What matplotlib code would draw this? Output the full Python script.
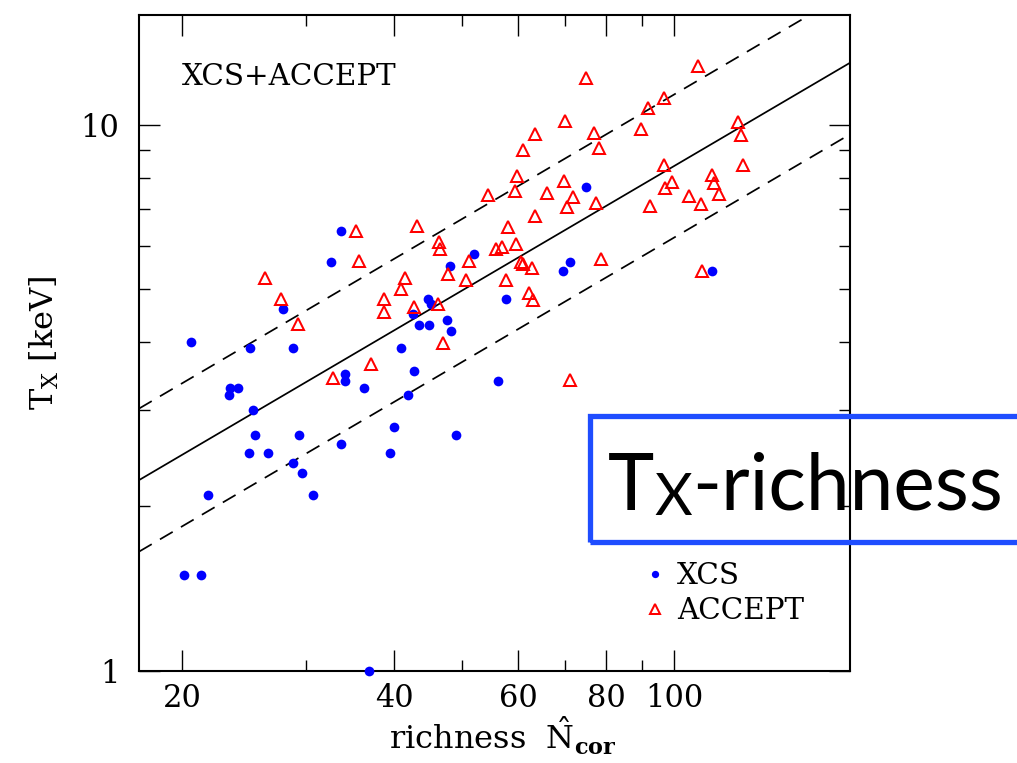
#!/usr/bin/env python3
"""T_X vs optical richness for XCS and ACCEPT clusters, log-log."""

import numpy as np
import matplotlib.pyplot as plt
from matplotlib.patches import Rectangle
from matplotlib.ticker import FixedLocator, FixedFormatter, NullFormatter

# XCS clusters: richness N_cor, T_X [keV]
xcs_n = [33.6, 32.5, 20.6, 25.0, 28.7, 27.8, 23.4, 24.0, 23.3, 25.2,
         48.0, 44.7, 45.1, 42.5, 43.4, 44.8, 47.6, 48.2, 40.9, 42.7,
         41.9, 34.1, 34.1, 36.2, 25.4, 24.9, 26.5, 29.3, 28.7, 29.6,
         30.7, 21.8, 33.6, 40.0, 39.5, 48.9, 20.1, 21.3, 36.8, 51.9,
         57.6, 56.2, 69.5, 71.2, 113.2, 74.9]
xcs_t = [6.39, 5.60, 4.00, 3.90, 3.90, 4.59, 3.30, 3.30, 3.20, 3.00,
         5.50, 4.79, 4.69, 4.50, 4.29, 4.29, 4.39, 4.19, 3.90, 3.54,
         3.20, 3.50, 3.39, 3.30, 2.70, 2.50, 2.50, 2.70, 2.40, 2.30,
         2.10, 2.10, 2.60, 2.80, 2.50, 2.70, 1.50, 1.50, 1.00, 5.80,
         4.79, 3.39, 5.40, 5.60, 5.40, 7.69]

# ACCEPT clusters
acc_n = [26.2, 27.6, 29.2, 32.8, 35.3, 35.7, 37.1, 38.7, 38.7, 40.9,
         41.4, 42.7, 43.1, 46.1, 46.3, 46.5, 47.0, 47.7, 50.6, 51.1,
         54.4, 55.8, 56.9, 57.6, 58.1, 59.3, 59.6, 59.7, 60.6, 60.9,
         62.7, 62.2, 62.9, 63.5, 63.4, 60.9, 65.9, 69.8, 70.0, 70.4,
         71.8, 74.9, 76.9, 77.3, 78.2, 78.8, 71.2, 89.6, 91.7, 92.5,
         96.6, 96.8, 97.0, 99.2, 104.9, 108.0, 109.1, 109.6, 113.2, 114.0,
         115.7, 123.0, 124.5, 125.3]
acc_t = [5.23, 4.80, 4.31, 3.43, 6.39, 5.63, 3.64, 4.79, 4.54, 5.00,
         5.24, 4.64, 6.52, 4.70, 6.09, 5.93, 3.98, 5.32, 5.19, 5.63,
         7.43, 5.93, 5.96, 5.20, 6.49, 7.56, 6.04, 8.04, 5.60, 5.55,
         5.46, 4.92, 4.78, 6.81, 9.62, 8.98, 7.51, 7.90, 10.14, 7.08,
         7.38, 12.18, 9.66, 7.18, 9.05, 5.67, 3.41, 9.81, 10.72, 7.09,
         11.21, 8.45, 7.67, 7.86, 7.40, 12.81, 7.16, 5.40, 8.08, 7.81,
         7.48, 10.13, 9.56, 8.45]

# best-fit power law and its scatter
FIT_SLOPE = 0.757
FIT_T40 = 4.20       # keV at N = 40
FIT_SCATTER = 0.131  # dex

x_ticks = [20, 40, 60, 80, 100]
x_minor = [30, 50, 70, 90]
y_ticks = [1, 10]
y_minor = [2, 3, 4, 5, 6, 7, 8, 9]

W, H = 1017, 763


def _title_box(fig):
    # blue title box, running off the right edge of the page
    fig.patches.append(Rectangle((590 / W, 1 - 542 / H), 0.5, 126 / H,
                                 transform=fig.transFigure, fill=False,
                                 edgecolor='#1f4dff', lw=3.8, zorder=5))
    r = fig.canvas.get_renderer()
    base = 1 - 510 / H
    size = 62.0
    parts = []
    for _ in range(3):
        for t in parts:
            t.remove()
        t1 = fig.text(608 / W, base, 'T', fontsize=size, family='Lato',
                      va='baseline')
        x1 = t1.get_window_extent(r).x1
        t2 = fig.text(x1 / W, base - 5 / H, 'X', fontsize=size * 0.74,
                      family='Lato', va='baseline')
        x2 = t2.get_window_extent(r).x1
        t3 = fig.text(x2 / W, base, '-richness', fontsize=size, family='Lato',
                      va='baseline')
        parts = [t1, t2, t3]
        right = t3.get_window_extent(r).x1
        size *= (1003 - 608) / (right - 608)


def main():
    plt.rcParams['font.family'] = ['DejaVu Serif']
    plt.rcParams['mathtext.fontset'] = 'dejavuserif'

    fig = plt.figure(figsize=(W / 100, H / 100), dpi=100)
    ax = fig.add_axes([139 / W, 1 - 670.7 / H, 711 / W, 655.4 / H])
    ax.set_xscale('log')
    ax.set_yscale('log')
    ax.set_xlim(17.37, 177.6)
    ax.set_ylim(1.0, 15.86)

    xs = np.array(ax.get_xlim())
    fit = FIT_T40 * (xs / 40.0) ** FIT_SLOPE
    ax.plot(xs, fit, color='black', lw=1.25, zorder=2)
    for sgn in (1, -1):
        ax.plot(xs, fit * 10 ** (sgn * FIT_SCATTER), color='black', lw=1.25,
                linestyle=(0, (8.5, 5.5)), zorder=2)

    ax.plot(xcs_n, xcs_t, 'o', color='#0000ff', ms=7, mew=0,
            label='XCS', zorder=3, clip_on=False)
    ax.plot(acc_n, acc_t, '^', mfc='none', mec='#ff0000', mew=1.45, ms=9,
            label='ACCEPT', zorder=4)

    ax.xaxis.set_major_locator(FixedLocator(x_ticks))
    ax.xaxis.set_major_formatter(FixedFormatter([str(v) for v in x_ticks]))
    ax.xaxis.set_minor_locator(FixedLocator(x_minor))
    ax.xaxis.set_minor_formatter(NullFormatter())
    ax.yaxis.set_major_locator(FixedLocator(y_ticks))
    ax.yaxis.set_major_formatter(FixedFormatter([str(v) for v in y_ticks]))
    ax.yaxis.set_minor_locator(FixedLocator(y_minor))
    ax.yaxis.set_minor_formatter(NullFormatter())

    ax.tick_params(which='both', direction='in', top=True, right=True,
                   labelsize=22, width=1.0)
    ax.tick_params(which='major', length=15)
    ax.tick_params(which='minor', length=8)
    ax.tick_params(axis='x', pad=9)
    ax.tick_params(axis='y', pad=14)
    for sp in ax.spines.values():
        sp.set_linewidth(1.5)

    ax.set_xlabel(r'richness  $\hat{\mathrm{N}}_{\mathbf{cor}}$', fontsize=23,
                  labelpad=0)
    ax.xaxis.set_label_coords(0.512, -0.068, transform=ax.transAxes)
    ax.xaxis.label.set_va('top')
    ax.set_ylabel(r'T$_{\mathrm{X}}$ [keV]', fontsize=23, labelpad=14)

    ax.text(43 / 711, (670.7 - 85) / 655.4, 'XCS+ACCEPT', transform=ax.transAxes,
            fontsize=21.2, va='baseline', ha='left')

    ax.legend(loc='upper left', bbox_to_anchor=(0.705, 0.166), frameon=False,
              fontsize=21.2, handlelength=1.0, handletextpad=0.25,
              labelspacing=0.25, borderpad=0, borderaxespad=0, markerscale=0.75)

    fig.canvas.draw()
    _title_box(fig)

    fig.savefig('out.png', dpi=100)


if __name__ == '__main__':
    main()
